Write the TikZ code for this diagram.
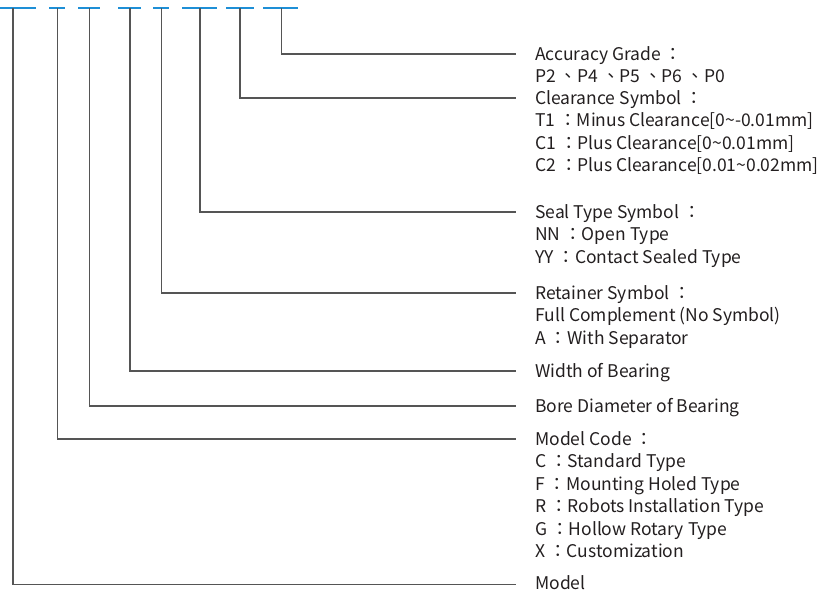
\documentclass[tikz,border=0pt]{standalone}
\usepackage{fontspec}
\setmainfont{Noto Sans CJK TC}
\definecolor{dashblue}{HTML}{1E8FD6}
\definecolor{linegray}{HTML}{555555}
\definecolor{txt}{HTML}{231F20}
\begin{document}
\begin{tikzpicture}[x=1pt,y=-1pt,
  dashbar/.style={draw=dashblue,line width=2.2pt},
  leader/.style={draw=linegray,line width=1.2pt},
  lbl/.style={anchor=base west,inner sep=0pt,text=txt,font=\fontsize{17.5}{22.5}\selectfont}]
\useasboundingbox (0,0) rectangle (821,592);
% blue dashes
\foreach \a/\b [count=\i] in {0/36,49/65,78/100,118/141,153/169,182/217,226/254,263/298}{
  \coordinate (d\i l) at (\a,8);
  \coordinate (d\i r) at (\b,8);
  \draw[dashbar] (d\i l) -- (d\i r);
}
% vertical tops
\coordinate (t1) at (13,8);
\coordinate (t2) at (57.7,8);
\coordinate (t3) at (89.7,8);
\coordinate (t4) at (130,8);
\coordinate (t5) at (161.7,8);
\coordinate (t6) at (200,8);
\coordinate (t7) at (240,8);
\coordinate (t8) at (281.7,8);
% line ends
\coordinate (e1) at (516,584.5);
\coordinate (e2) at (516,439);
\coordinate (e3) at (516,406);
\coordinate (e4) at (516,371);
\coordinate (e5) at (516,293);
\coordinate (e6) at (516,212);
\coordinate (e7) at (516,98);
\coordinate (e8) at (516,54);
\foreach \i in {1,...,8}{
  \draw[leader] (t\i) |- (e\i);
}
% labels
\node[lbl] (n8) at (535,60) {\begin{tabular}[t]{@{}l@{}}Accuracy Grade ：\\P2 、P4 、P5 、P6 、P0\end{tabular}};
\node[lbl] (n7) at (535,104) {\begin{tabular}[t]{@{}l@{}}Clearance Symbol ：\\T1 ：Minus Clearance[0\textasciitilde-0.01mm]\\C1 ：Plus Clearance[0\textasciitilde0.01mm]\\C2 ：Plus Clearance[0.01\textasciitilde0.02mm]\end{tabular}};
\node[lbl] (n6) at (535,218) {\begin{tabular}[t]{@{}l@{}}Seal Type Symbol ：\\NN ：Open Type\\YY ：Contact Sealed Type\end{tabular}};
\node[lbl] (n5) at (535,299) {\begin{tabular}[t]{@{}l@{}}Retainer Symbol ：\\Full Complement (No Symbol)\\A ：With Separator\end{tabular}};
\node[lbl] (n4) at (535,377) {Width of Bearing};
\node[lbl] (n3) at (535,412) {Bore Diameter of Bearing};
\node[lbl] (n2) at (535,445) {\begin{tabular}[t]{@{}l@{}}Model Code ：\\C ：Standard Type\\F ：Mounting Holed Type\\R ：Robots Installation Type\\G ：Hollow Rotary Type\\X ：Customization\end{tabular}};
\node[lbl] (n1) at (535,589) {Model};
\end{tikzpicture}
\end{document}
